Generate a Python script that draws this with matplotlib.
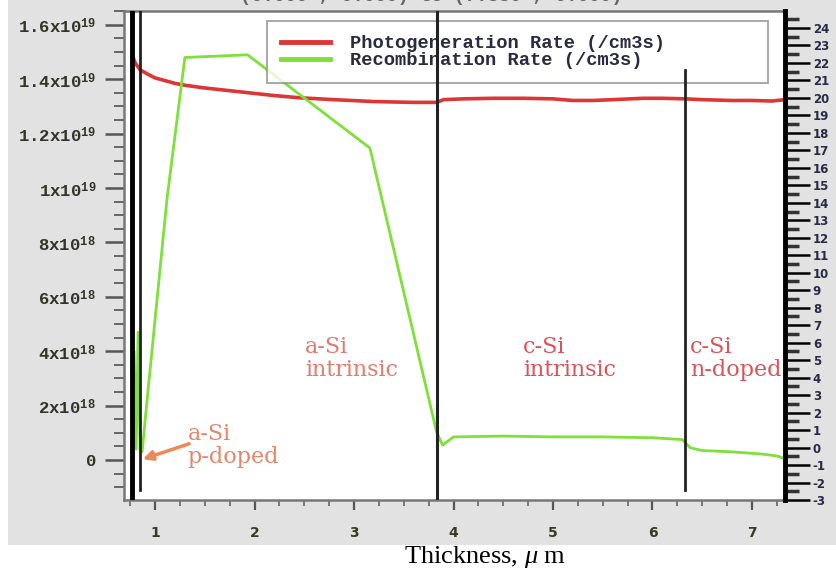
"""Photogeneration / recombination rate through an a-Si / c-Si cell."""
import matplotlib
matplotlib.use("Agg")
import matplotlib.pyplot as plt
from matplotlib.patches import Rectangle
from matplotlib.ticker import FixedLocator, MultipleLocator

# thickness (um) and rates (units of 1e18 /cm3s)
red_x = [0.78, 0.80, 0.85, 0.92, 1.0, 1.1, 1.2, 1.3, 1.5, 1.7, 1.95, 2.2,
         2.45, 2.8, 3.2, 3.6, 3.83, 3.9, 4.1, 4.4, 4.7, 5.0, 5.2, 5.4, 5.6,
         5.9, 6.1, 6.33, 6.5, 6.8, 7.0, 7.2, 7.33]
red_rate = [14.8, 14.6, 14.35, 14.2, 14.05, 13.95, 13.85, 13.78, 13.68,
            13.6, 13.5, 13.4, 13.32, 13.25, 13.18, 13.15, 13.15, 13.25,
            13.28, 13.3, 13.3, 13.28, 13.22, 13.22, 13.25, 13.3, 13.3,
            13.28, 13.25, 13.22, 13.22, 13.2, 13.25]

green_x = [0.77, 0.79, 0.81, 0.83, 0.85, 0.87, 0.92, 1.12, 1.30, 1.93, 3.16,
           3.83, 3.89, 4.0, 4.5, 5.0, 5.5, 6.0, 6.3, 6.38, 6.5, 6.8, 7.1,
           7.25, 7.33]
green_rate = [0.3, 4.0, 0.4, 4.7, 0.4, 0.3, 2.2, 9.6, 14.8, 14.9, 11.47,
              1.03, 0.55, 0.85, 0.88, 0.85, 0.85, 0.82, 0.75, 0.45, 0.35,
              0.3, 0.22, 0.15, 0.05]

series_names = ["Photogeneration Rate (/cm3s)", "Recombination Rate (/cm3s)"]

# layer boundaries (um)
boundaries = [0.77, 0.85, 3.83, 6.33]

y_ticks = [0, 2, 4, 6, 8, 10, 12, 14, 16]
y_labels = ["0", "2x10$^{18}$", "4x10$^{18}$", "6x10$^{18}$", "8x10$^{18}$",
            "1x10$^{19}$", "1.2x10$^{19}$", "1.4x10$^{19}$", "1.6x10$^{19}$"]
x_ticks = [1, 2, 3, 4, 5, 6, 7]

plt.rcParams["mathtext.fontset"] = "custom"
plt.rcParams["mathtext.rm"] = "Liberation Mono:bold"
plt.rcParams["mathtext.bf"] = "Liberation Mono:bold"
plt.rcParams["mathtext.it"] = "Liberation Serif:italic"
plt.rcParams["axes.unicode_minus"] = False

fig = plt.figure(figsize=(8.36, 5.73), dpi=100, facecolor="white")
# gray panel behind the plot
fig.patches.append(Rectangle((8 / 836, 28 / 573), 1, 1, transform=fig.transFigure,
                             facecolor="#e2e2e2", edgecolor="none", zorder=-10))

ax = fig.add_axes([124 / 836, 73 / 573, 661 / 836, 489 / 573])
ax.set_facecolor("white")

ax.plot(red_x, red_rate, color="#dd3636", lw=2.6, label=series_names[0], zorder=3)
ax.plot(green_x, green_rate, color="#7fe03a", lw=2.0, label=series_names[1], zorder=3)

ax.set_xlim(0.688, 7.332)
ax.set_ylim(-1.47, 16.51)

# boundary lines
ax.axvline(boundaries[0], color="black", lw=3.5, zorder=6)
ax.axvline(boundaries[1], ymin=0.02, color="#222222", lw=2.0, zorder=6)
ax.axvline(boundaries[2], color="#222222", lw=2.2, zorder=6)
ax.axvline(boundaries[3], ymin=0.02, ymax=0.879, color="#222222", lw=2.0, zorder=6)

# left axis ticks
ax.yaxis.set_major_locator(FixedLocator(y_ticks))
ax.set_yticklabels(y_labels)
ax.yaxis.set_minor_locator(MultipleLocator(0.5))
ax.tick_params(axis="y", which="major", direction="out", length=14, width=1.8,
               color="#555555", pad=6, labelsize=12.5, labelcolor="#33332a")
ax.tick_params(axis="y", which="minor", direction="out", length=7, width=1.4,
               color="#666666")
for lab in ax.get_yticklabels():
    lab.set_fontfamily("Liberation Mono")
    lab.set_fontweight("bold")

ax.xaxis.set_major_locator(FixedLocator(x_ticks))
ax.xaxis.set_minor_locator(MultipleLocator(0.25))
ax.tick_params(axis="x", which="major", direction="out", length=7, width=1.6,
               color="#555555", pad=12, labelsize=10, labelcolor="#3a3a22")
ax.tick_params(axis="x", which="minor", direction="out", length=4.5, width=1.2,
               color="#666666")
for lab in ax.get_xticklabels():
    lab.set_fontweight("bold")

for side in ["left", "top", "bottom"]:
    ax.spines[side].set_color("#777777")
    ax.spines[side].set_linewidth(1.8)
ax.spines["right"].set_visible(False)

# right axis (integer scale)
ax2 = ax.twinx()
ax2.set_ylim(-3.0, 24.97)
ax2.yaxis.set_major_locator(MultipleLocator(1))
ax2.yaxis.set_minor_locator(MultipleLocator(0.5))
ax2.tick_params(axis="y", which="major", direction="out", length=18, width=1.8,
                color="black", pad=2, labelsize=8.5, labelcolor="#2a2a45")
ax2.tick_params(axis="y", which="minor", direction="out", length=10, width=2.5,
                color="#333333")
for lab in ax2.get_yticklabels():
    lab.set_fontweight("bold")
ax2.spines["right"].set_color("black")
ax2.spines["right"].set_linewidth(3.5)
for side in ["left", "top", "bottom"]:
    ax2.spines[side].set_visible(False)

# legend
leg = ax.legend(loc="upper left", bbox_to_anchor=(0.2163, 0.9796 - 0.1166, 0.7579, 0.1166),
                mode="expand", borderaxespad=0, frameon=True, fancybox=False,
                handlelength=2.6, handletextpad=1.1, borderpad=0.75, labelspacing=0.0,
                prop={"family": "Liberation Mono", "weight": "bold", "size": 13.5})
leg.get_frame().set_edgecolor("#8a8a8a")
leg.get_frame().set_linewidth(1.3)
for line in leg.get_lines():
    line.set_linewidth(3.5)
for txt in leg.get_texts():
    txt.set_color("#2a2a40")

# region labels
ax.text(2.508, 3.74, "a-Si\nintrinsic", ha="left", va="center", fontsize=16,
        family="DejaVu Serif", color="#e07b6e", linespacing=1.05, zorder=7)
ax.text(4.70, 3.74, "c-Si\nintrinsic", ha="left", va="center", fontsize=16,
        family="DejaVu Serif", color="#d9535a", linespacing=1.05, zorder=7)
ax.text(6.377, 3.74, "c-Si\nn-doped", ha="left", va="center", fontsize=16,
        family="DejaVu Serif", color="#d9535a", linespacing=1.05, zorder=7)
ax.text(1.33, 0.52, "a-Si\np-doped", ha="left", va="center", fontsize=16,
        family="DejaVu Serif", color="#e3866a", linespacing=1.05, zorder=7)
ax.annotate("", xy=(0.85, 0.0), xytext=(1.37, 0.63),
            arrowprops=dict(arrowstyle="-|>", color="#ec8a55", lw=2.5,
                            mutation_scale=14), zorder=7)

# clipped title strip and axis label
fig.text(0.516, 1 - 1 / 573, "(0.000 , 0.000) to (7.330 , 0.000)", ha="center",
         va="baseline", family="Liberation Mono", weight="bold", fontsize=13.5,
         color="#666666")
fig.text(485 / 836, 1 - 557 / 573, "Thickness, $\\mu$ m", ha="center", va="center",
         family="Liberation Serif", fontsize=19, color="black")

fig.savefig("out.png", dpi=100, facecolor=fig.get_facecolor())
